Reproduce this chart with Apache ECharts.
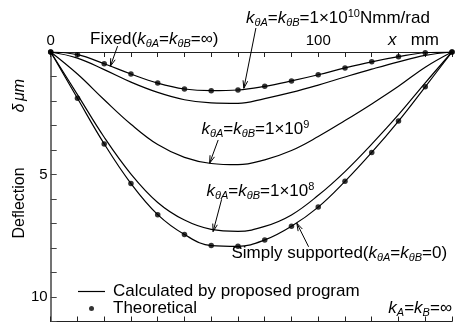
<!DOCTYPE html>
<html><head><meta charset="utf-8">
<script src="https://cdn.jsdelivr.net/npm/echarts@6/dist/echarts.min.js"></script>
<style>html,body{margin:0;padding:0;background:#fff}#c{width:455px;height:322px}</style>
</head><body><div id="c"></div>
<script>
// ---- data (x in mm, deflection in µm) ----
const xPos          = [0, 10, 20, 30, 40, 50, 60, 70, 80, 90, 100, 110, 120, 130, 140, 150];
const fixedCalc     = [0, 0.11, 0.48, 0.90, 1.27, 1.51, 1.58, 1.55, 1.40, 1.18, 0.93, 0.65, 0.40, 0.19, 0.03, 0];
const k1e10Calc     = [0, 0.25, 0.72, 1.23, 1.65, 1.95, 2.08, 2.10, 1.90, 1.65, 1.35, 1.02, 0.70, 0.40, 0.14, 0];
const k1e9Calc      = [0, 0.90, 1.95, 2.95, 3.78, 4.30, 4.55, 4.60, 4.40, 4.02, 3.45, 2.80, 2.12, 1.40, 0.62, 0];
const k1e8Calc      = [0, 1.74, 3.48, 4.98, 6.14, 6.86, 7.24, 7.32, 7.12, 6.65, 5.85, 4.88, 3.76, 2.56, 1.26, 0];
const simplyCalc    = [0, 1.89, 3.75, 5.37, 6.64, 7.45, 7.90, 7.93, 7.67, 7.11, 6.33, 5.28, 4.10, 2.82, 1.42, 0];
const fixedTheory   = [0, 0.11, 0.48, 0.90, 1.27, 1.51, 1.58, 1.55, 1.40, 1.18, 0.93, 0.65, 0.40, 0.19, 0.03, 0];
const simplyTheory  = [0, 1.89, 3.75, 5.37, 6.64, 7.45, 7.90, 7.93, 7.67, 7.11, 6.33, 5.28, 4.10, 2.82, 1.42, 0];
const xTickLabels   = [0, 100];
const yTickLabels   = [5, 10];
const calcName = 'Calculated by proposed program';
const theoName = 'Theoretical';

const FONT = "'Liberation Sans', Arial, sans-serif";
const chart = echarts.init(document.getElementById('c'), null, {renderer: 'canvas'});
const pairs = arr => xPos.map((x, i) => [x, arr[i]]);

const lineSeries = [fixedCalc, k1e10Calc, k1e9Calc, k1e8Calc, simplyCalc].map(arr => ({
  type: 'line', name: calcName, data: pairs(arr), symbol: 'none', smooth: 0.4,
  lineStyle: {color: '#000', width: 1.2}, itemStyle: {color: '#000'}, silent: true, z: 2
}));
const dotSeries = [fixedTheory, simplyTheory].map(arr => ({
  type: 'scatter', name: theoName, data: pairs(arr), symbol: 'circle', symbolSize: 5.5,
  itemStyle: {color: '#000'}, silent: true, z: 3
}));

const xAxisCommon = {
  type: 'value', min: 0, max: 150, interval: 10,
  axisLine: {show: true, onZero: false, lineStyle: {color: '#222', width: 1.2}},
  axisTick: {show: true, inside: true, length: 5, lineStyle: {color: '#222', width: 1}},
  splitLine: {show: false}
};

const option = {
  animation: false,
  backgroundColor: '#fff',
  textStyle: {fontFamily: FONT},
  grid: {left: 50.7, top: 52, right: 1, bottom: 0.5, containLabel: false},
  xAxis: [
    Object.assign({}, xAxisCommon, {
      position: 'top',
      axisLabel: {show: true, margin: 4, fontSize: 15, color: '#000', fontFamily: FONT,
        formatter: v => xTickLabels.includes(v) ? String(v) : ''}
    }),
    Object.assign({}, xAxisCommon, {
      position: 'bottom', axisLabel: {show: false}
    })
  ],
  yAxis: {
    type: 'value', inverse: true, min: 0, max: 11, interval: 1,
    axisLine: {show: true, onZero: false, lineStyle: {color: '#444', width: 1.5}},
    axisTick: {show: true, inside: true, length: 6, lineStyle: {color: '#444', width: 1}},
    axisLabel: {margin: 3, fontSize: 15, color: '#000', fontFamily: FONT,
      formatter: v => yTickLabels.includes(v) ? String(v) : ''},
    splitLine: {show: false}
  },
  legend: {
    orient: 'vertical', left: 78, top: 283, height: 36, padding: 0,
    itemWidth: 27, itemHeight: 5, itemGap: 0,
    textStyle: {fontSize: 17, color: '#000', fontFamily: FONT, lineHeight: 15, padding: [0, 0, 0, 3]},
    data: [{name: calcName, icon: 'path://M0,0H27V1.2H0Z'}, {name: theoName, icon: 'circle'}],
    selectedMode: false
  },
  series: lineSeries.concat(dotSeries)
};
chart.setOption(option);

// ---- annotations ----
const rich = {
  n: {fontSize: 17, fontFamily: FONT, lineHeight: 20, verticalAlign: 'middle', fill: '#000'},
  i: {fontSize: 17, fontFamily: FONT, fontStyle: 'italic', lineHeight: 20, verticalAlign: 'middle', fill: '#000'},
  s: {fontSize: 11, fontFamily: FONT, fontStyle: 'italic', lineHeight: 11, padding: [9, 0, 0, 0], verticalAlign: 'top', fill: '#000'},
  p: {fontSize: 11, fontFamily: FONT, lineHeight: 11, padding: [0, 0, 0, 0], verticalAlign: 'top', fill: '#000'}
};
const kk = '{i|k}{s|θA}{n|=}{i|k}{s|θB}';
const labels = [
  {text: kk + '{n|=1×10}{p|10}{n|Nmm/rad}', x: 246, y: 18, align: 'left'},
  {text: '{n|Fixed(}' + kk + '{n|=∞)}', x: 90, y: 39, align: 'left'},
  {text: kk + '{n|=1×10}{p|9}', x: 201.5, y: 129, align: 'left'},
  {text: kk + '{n|=1×10}{p|8}', x: 206.5, y: 191, align: 'left'},
  {text: '{n|Simply supported(}' + kk + '{n|=0)}', x: 231.5, y: 253, align: 'left'},
  {text: '{i|k}{s|A}{n|=}{i|k}{s|B}{n|=∞}', x: 452, y: 308, align: 'right'},
  {text: '{i|x}{n|   mm}', x: 388, y: 40, align: 'left'}
];
// arrows in data coordinates [x mm, deflection µm]
const arrows = [
  {from: [76.7, -0.98], to: [72.2, 1.48]},
  {from: [25.0, -0.24], to: [22.3, 0.58]},
  {from: [62.6, 3.59], to: [59.4, 4.54]},
  {from: [63.9, 6.01], to: [60.7, 7.33]},
  {from: [96.4, 7.95], to: [92.0, 6.99]}
];

const px = p => chart.convertToPixel({xAxisIndex: 0, yAxisIndex: 0}, p);
const graphics = [];
arrows.forEach(a => {
  const s = px(a.from), t = px(a.to);
  const ang = Math.atan2(t[1] - s[1], t[0] - s[0]);
  const L = 8, w = 0.3;
  const h1 = [t[0] - L * Math.cos(ang - w), t[1] - L * Math.sin(ang - w)];
  const h2 = [t[0] - L * Math.cos(ang + w), t[1] - L * Math.sin(ang + w)];
  graphics.push({type: 'polyline', shape: {points: [s, t]}, style: {stroke: '#000', lineWidth: 1, fill: null}, z: 10});
  graphics.push({type: 'polyline', shape: {points: [h1, t, h2]}, style: {stroke: '#000', lineWidth: 1, fill: null}, z: 10});
});
labels.forEach(l => {
  graphics.push({type: 'text', x: l.x, y: l.y, z: 10,
    style: {text: l.text, rich: rich, align: l.align, textAlign: l.align,
      verticalAlign: 'middle', textVerticalAlign: 'middle', fill: '#000', fontSize: 17, fontFamily: FONT}});
});
// y-axis title (rotated)
[{t: 'Deflection', y: 203, it: false}, {t: 'δ', y: 108, it: true}, {t: 'μm', y: 90, it: true}].forEach(o => {
  graphics.push({type: 'text', x: 20, y: o.y, rotation: Math.PI / 2, z: 10,
    style: {text: o.t, align: 'center', textAlign: 'center', verticalAlign: 'middle', textVerticalAlign: 'middle',
      fill: '#000', fontSize: 16, fontFamily: FONT, fontStyle: o.it ? 'italic' : 'normal'}});
});
chart.setOption({graphic: graphics});
</script>
</body></html>
